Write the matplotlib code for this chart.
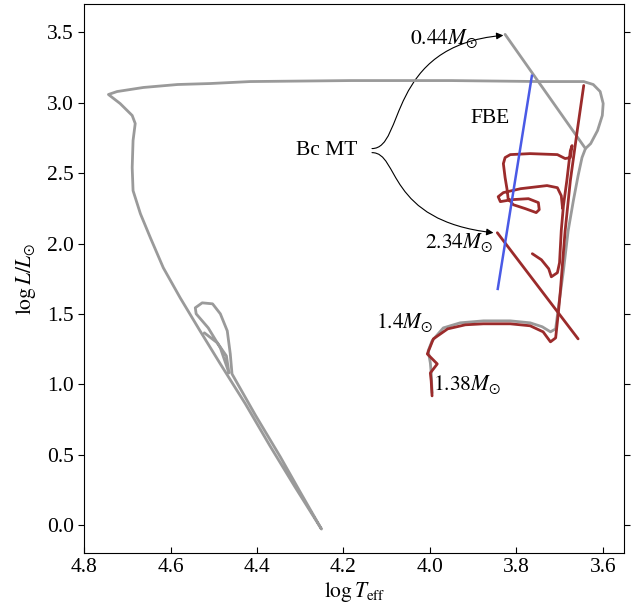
import matplotlib.pyplot as plt
from matplotlib.patches import FancyArrowPatch
from matplotlib.path import Path

plt.rcParams["font.family"] = "Liberation Serif"
plt.rcParams["mathtext.fontset"] = "stix"
plt.rcParams["font.size"] = 15.5

# grey track (long track incl. 1.4 Msun part and the blue loop)
grey_logT = [3.995, 3.997, 3.999, 4.004, 3.995, 3.969, 3.930, 3.876, 3.814, 3.768,
             3.740, 3.721, 3.709, 3.703, 3.691, 3.680, 3.668, 3.657, 3.648, 3.640,
             3.628, 3.612, 3.601, 3.599, 3.606, 3.622, 3.644, 3.745, 3.952, 4.184,
             4.416, 4.508, 4.584, 4.663, 4.724, 4.744, 4.717, 4.689, 4.682, 4.687,
             4.689, 4.687, 4.670, 4.647, 4.617, 4.578, 4.532, 4.485, 4.427, 4.370,
             4.312, 4.267, 4.251, 4.300, 4.346, 4.404, 4.458, 4.462, 4.469, 4.485,
             4.503, 4.527, 4.543, 4.541, 4.513, 4.485, 4.465, 4.471, 4.492, 4.522]
grey_logL = [0.939, 1.081, 1.152, 1.238, 1.309, 1.401, 1.437, 1.451, 1.451, 1.437,
             1.409, 1.373, 1.394, 1.537, 1.807, 2.092, 2.305, 2.483, 2.611, 2.675,
             2.710, 2.803, 2.910, 2.995, 3.080, 3.130, 3.151, 3.151, 3.158, 3.158,
             3.151, 3.137, 3.130, 3.109, 3.080, 3.059, 2.995, 2.910, 2.853, 2.732,
             2.540, 2.376, 2.212, 2.042, 1.828, 1.615, 1.380, 1.145, 0.861, 0.562,
             0.270, 0.050, -0.028, 0.234, 0.484, 0.782, 1.074, 1.216, 1.380, 1.501,
             1.572, 1.579, 1.544, 1.501, 1.401, 1.259, 1.081, 1.202, 1.295, 1.366]

# grey 0.44 Msun stripped star
strip_logT = [3.826, 3.640]
strip_logL = [3.486, 2.675]

# red 1.38 Msun track
red_a_logT = [3.995, 3.997, 3.999, 3.983, 4.006, 3.992, 3.959, 3.918, 3.876, 3.814,
              3.768, 3.738, 3.721, 3.709, 3.703, 3.698, 3.693, 3.687, 3.675, 3.659,
              3.644]
red_a_logL = [0.918, 1.024, 1.081, 1.145, 1.216, 1.323, 1.394, 1.423, 1.430, 1.430,
              1.416, 1.373, 1.302, 1.330, 1.501, 1.665, 1.864, 2.092, 2.447, 2.803,
              3.123]

# red 2.34 Msun track (loops)
red_b_logT = [3.763, 3.742, 3.725, 3.719, 3.705, 3.700, 3.696, 3.691, 3.683, 3.675,
              3.671, 3.675, 3.687, 3.705, 3.768, 3.814, 3.826, 3.830, 3.826, 3.821,
              3.819, 3.807, 3.779, 3.754, 3.747, 3.749, 3.772, 3.810, 3.837, 3.842,
              3.830, 3.790, 3.729, 3.705, 3.696, 3.693]
red_b_logL = [1.928, 1.885, 1.821, 1.764, 1.793, 1.864, 2.092, 2.269, 2.450, 2.660,
              2.696, 2.611, 2.604, 2.632, 2.639, 2.632, 2.611, 2.568, 2.469, 2.376,
              2.319, 2.276, 2.248, 2.220, 2.241, 2.291, 2.319, 2.312, 2.298, 2.333,
              2.362, 2.390, 2.412, 2.397, 2.340, 2.250]

# red 2.34 Msun accretor line
red_c_logT = [3.844, 3.657]
red_c_logL = [2.077, 1.323]

# FBE line
fbe_logT = [3.843, 3.764]
fbe_logL = [1.678, 3.192]

grey = "#9a9a9a"
red = "#9b2b2b"
blue = "#4a5ae6"

fig = plt.figure(figsize=(6.43, 6.10), dpi=100)
ax = fig.add_axes([0.131, 0.093, 0.840, 0.900])

line_kw = dict(lw=2, solid_joinstyle="round", solid_capstyle="round")
ax.plot(grey_logT, grey_logL, color=grey, **line_kw)
ax.plot(strip_logT, strip_logL, color=grey, **line_kw)
ax.plot(red_a_logT, red_a_logL, color=red, **line_kw)
ax.plot(red_b_logT, red_b_logL, color=red, **line_kw)
ax.plot(red_c_logT, red_c_logL, color=red, **line_kw)
ax.plot(fbe_logT, fbe_logL, color=blue, lw=1.8)

ax.text(3.888, 3.457, r"$0.44M_{\odot}$", ha="right", va="center")
ax.text(3.860, 2.888, "FBE", ha="center", va="center")
ax.text(4.238, 2.661, "Bc MT", ha="center", va="center")
ax.text(3.853, 2.006, r"$2.34M_{\odot}$", ha="right", va="center")
ax.text(3.992, 1.437, r"$1.4M_{\odot}$", ha="right", va="center")
ax.text(3.992, 0.999, r"$1.38M_{\odot}$", ha="left", va="center")

# curved arrows from the "Bc MT" label
up = Path([(4.134, 2.675), (4.057, 2.675), (4.103, 3.408), (3.830, 3.479)],
          [Path.MOVETO, Path.CURVE4, Path.CURVE4, Path.CURVE4])
down = Path([(4.134, 2.646), (4.070, 2.646), (4.103, 2.163), (3.853, 2.077)],
            [Path.MOVETO, Path.CURVE4, Path.CURVE4, Path.CURVE4])
for p in (up, down):
    ax.add_patch(FancyArrowPatch(path=p, arrowstyle="-|>", mutation_scale=10,
                                 lw=0.8, color="black"))

ax.set_xlim(4.8, 3.55)
ax.set_ylim(-0.2, 3.7)
ax.set_xticks([4.8, 4.6, 4.4, 4.2, 4.0, 3.8, 3.6])
ax.set_yticks([0.0, 0.5, 1.0, 1.5, 2.0, 2.5, 3.0, 3.5])
ax.tick_params(axis="y", direction="out", length=4, right=True)
ax.tick_params(axis="x", direction="in", length=4)
ax.set_xlabel(r"$\log T_{\rm eff}$", labelpad=2)
ax.set_ylabel(r"$\log L/L_{\odot}$", labelpad=6)

fig.savefig("out.png", dpi=100)
